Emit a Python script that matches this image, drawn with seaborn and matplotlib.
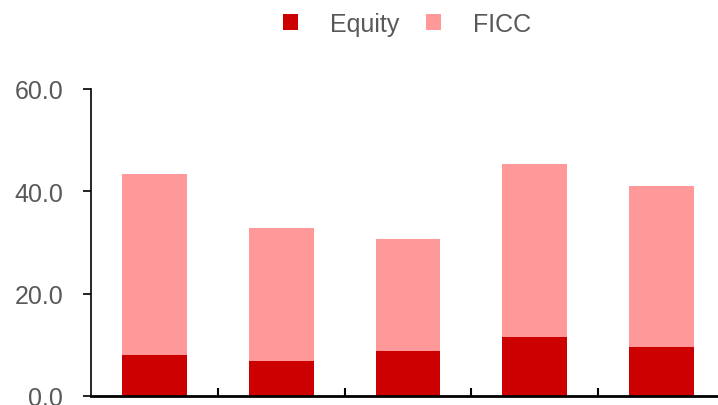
import matplotlib
matplotlib.use("Agg")
import matplotlib.pyplot as plt
import seaborn as sns
import pandas as pd
from matplotlib.patches import Patch
from matplotlib.ticker import FormatStrFormatter

categories = ["C1", "C2", "C3", "C4", "C5"]
equity = [8.0, 6.8, 8.8, 11.5, 9.6]
ficc = [35.4, 26.0, 21.9, 33.8, 31.4]

eq_color = "#CC0000"
ficc_color = "#FF9999"

sns.set_style("white")
plt.rcParams["font.family"] = ["Liberation Sans", "DejaVu Sans"]

df = pd.DataFrame({"cat": categories, "equity": equity, "ficc": ficc})
df["total"] = df["equity"] + df["ficc"]

fig = plt.figure(figsize=(7.18, 4.06), dpi=100)
ax = fig.add_axes([91 / 718, 9 / 406, 634 / 718, 307 / 406])

sns.barplot(data=df, x="cat", y="total", color=ficc_color, width=0.51,
            saturation=1, ax=ax, linewidth=0)
sns.barplot(data=df, x="cat", y="equity", color=eq_color, width=0.51,
            saturation=1, ax=ax, linewidth=0)

ax.set_xlim(-0.5, 4.5)
ax.set_ylim(0, 60)
ax.set_yticks([0, 20, 40, 60])
ax.yaxis.set_major_formatter(FormatStrFormatter("%.1f"))
ax.set_xticks([0.5, 1.5, 2.5, 3.5])
ax.set_xticklabels([])
ax.set_xlabel("")
ax.set_ylabel("")
ax.tick_params(axis="y", direction="out", length=6, width=1.2, colors="black",
               labelcolor="#595959", labelsize=18, pad=14, left=True)
ax.tick_params(axis="x", direction="in", length=6, width=1.5, colors="black", bottom=True)
for s in ["top", "right"]:
    ax.spines[s].set_visible(False)
ax.spines["left"].set_color("black")
ax.spines["left"].set_linewidth(1.2)
ax.spines["bottom"].set_color("black")
ax.spines["bottom"].set_linewidth(2)

handles = [Patch(facecolor=eq_color, edgecolor="none", label="Equity"),
           Patch(facecolor=ficc_color, edgecolor="none", label="FICC")]
fig.legend(handles=handles, loc="center", bbox_to_anchor=(407 / 718, 1 - 25 / 406),
           ncol=2, frameon=False, fontsize=18, labelcolor="#595959",
           handlelength=0.6, handleheight=0.6, handletextpad=1.28, columnspacing=1.1)

fig.savefig("out.png", dpi=100)
